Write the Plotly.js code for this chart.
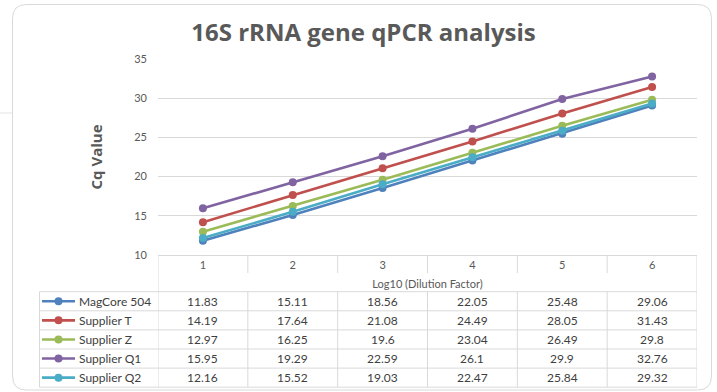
<!DOCTYPE html>
<html>
<head>
<meta charset="utf-8">
<script src="https://cdn.plot.ly/plotly-3.0.1.min.js"></script>
<style>
  html, body { margin: 0; padding: 0; background: #ffffff; }
  #chart { width: 717px; height: 392px; }
</style>
</head>
<body>
<div id="chart"></div>
<script>
// Dilution steps (log10) and Cq values per kit
const dilution = ['1', '2', '3', '4', '5', '6'];
const seriesNames = ['MagCore 504', 'Supplier T', 'Supplier Z', 'Supplier Q1', 'Supplier Q2'];
const magcore504 = [11.83, 15.11, 18.56, 22.05, 25.48, 29.06];
const supplierT  = [14.19, 17.64, 21.08, 24.49, 28.05, 31.43];
const supplierZ  = [12.97, 16.25, 19.6, 23.04, 26.49, 29.8];
const supplierQ1 = [15.95, 19.29, 22.59, 26.1, 29.9, 32.76];
const supplierQ2 = [12.16, 15.52, 19.03, 22.47, 25.84, 29.32];
const yTicks = [10, 15, 20, 25, 30, 35];

const seriesValues = [magcore504, supplierT, supplierZ, supplierQ1, supplierQ2];
const seriesColors = ['#4F81BD', '#C0504D', '#9BBB59', '#8064A2', '#4BACC6'];

// ---- page geometry (pixels) ----
const W = 717, H = 392;
const M = { l: 158, r: 20, t: 59, b: 137 };
const plotW = W - M.l - M.r;
const plotH = H - M.t - M.b;
const px2x = px => (px - M.l) / plotW;
const px2y = py => (H - M.b - py) / plotH;

const FONT = 'Lato, "Open Sans", sans-serif';
const HEAD_FONT = '"Open Sans", Lato, sans-serif';
const GRID = '#d9d9d9';
const TEXT = '#595959';

// data table beneath the axis
const tbl = { left: 39.5, top: 291.7, rowH: 19.1, headBottom: 273 };
const tblBottom = tbl.top + tbl.rowH * seriesNames.length;
const rowMid = k => tbl.top + tbl.rowH * (k + 0.5);

const traces = seriesNames.map((name, k) => ({
  type: 'scatter',
  mode: 'lines+markers',
  name: name,
  x: dilution,
  y: seriesValues[k],
  line: { color: seriesColors[k], width: 2.6 },
  marker: { color: seriesColors[k], size: 8 },
  cliponaxis: false,
  hoverinfo: 'skip'
}));

const shapes = [];
const annotations = [];
const line = (x0, y0, x1, y1, xref, yref, color, width) => shapes.push({
  type: 'line', xref: xref, yref: yref, x0: x0, y0: y0, x1: x1, y1: y1,
  line: { color: color, width: width }
});

// rounded frame round the whole chart
(function () {
  const x0 = 12.5, y0 = 4.5, x1 = 711.5, y1 = 390, r = 14;
  const P = (x, y) => px2x(x) + ',' + px2y(y);
  const d = 'M' + P(x0 + r, y0) + ' L' + P(x1 - r, y0) +
            ' Q' + P(x1, y0) + ' ' + P(x1, y0 + r) +
            ' L' + P(x1, y1 - r) +
            ' Q' + P(x1, y1) + ' ' + P(x1 - r, y1) +
            ' L' + P(x0 + r, y1) +
            ' Q' + P(x0, y1) + ' ' + P(x0, y1 - r) +
            ' L' + P(x0, y0 + r) +
            ' Q' + P(x0, y0) + ' ' + P(x0 + r, y0) + ' Z';
  shapes.push({ type: 'path', xref: 'paper', yref: 'paper', path: d,
                line: { color: '#d9d9d9', width: 1 }, layer: 'below' });
  line(px2x(0), px2y(113), px2x(x0), px2y(113), 'paper', 'paper', '#e3e3e3', 1);
})();

// table header column dividers and outer verticals (category boundaries)
for (let i = 0; i <= dilution.length; i++) {
  const xb = i - 0.5;
  if (i === 0 || i === dilution.length) {
    line(xb, px2y(H - M.b), xb, px2y(tblBottom), 'x', 'paper', GRID, 1);
  } else {
    line(xb, px2y(H - M.b), xb, px2y(tbl.headBottom), 'x', 'paper', GRID, 1);
    line(xb, px2y(tbl.top), xb, px2y(tblBottom), 'x', 'paper', GRID, 1);
  }
}
// table body: row rules and left border
for (let k = 0; k <= seriesNames.length; k++) {
  const y = px2y(tbl.top + tbl.rowH * k);
  line(px2x(tbl.left), y, px2x(W - M.r), y, 'paper', 'paper', GRID, 1);
}
line(px2x(tbl.left), px2y(tbl.top), px2x(tbl.left), px2y(tblBottom), 'paper', 'paper', GRID, 1);

// legend keys, series names and values in each row
seriesNames.forEach((name, k) => {
  const ym = px2y(rowMid(k));
  line(px2x(42), ym, px2x(75), ym, 'paper', 'paper', seriesColors[k], 2.6);
  shapes.push({
    type: 'circle', xref: 'paper', yref: 'paper',
    xsizemode: 'pixel', ysizemode: 'pixel',
    xanchor: px2x(58.5), yanchor: ym,
    x0: -4, x1: 4, y0: -4, y1: 4,
    fillcolor: seriesColors[k], line: { color: seriesColors[k], width: 0 }
  });
  annotations.push({
    xref: 'paper', yref: 'paper', x: px2x(77), y: ym,
    xanchor: 'left', yanchor: 'middle', showarrow: false,
    text: name, font: { family: FONT, size: 12, color: '#404040' }
  });
  seriesValues[k].forEach((v, i) => {
    // category position by index on the x axis
    annotations.push({
      xref: 'x', yref: 'paper', x: i, y: ym,
      xanchor: 'center', yanchor: 'middle', showarrow: false,
      text: String(v), font: { family: FONT, size: 12, color: '#404040' }
    });
  });
});

const layout = {
  width: W, height: H,
  margin: M,
  paper_bgcolor: '#ffffff',
  plot_bgcolor: '#ffffff',
  showlegend: false,
  font: { family: FONT, color: TEXT },
  title: {
    text: '<b>16S rRNA gene qPCR analysis</b>',
    font: { family: HEAD_FONT, size: 24, color: TEXT },
    x: 0.507, xref: 'container', xanchor: 'center',
    y: 0.918, yref: 'container', yanchor: 'middle'
  },
  xaxis: {
    type: 'category',
    categoryorder: 'array', categoryarray: dilution,
    range: [-0.5, dilution.length - 0.5],
    showline: true, linecolor: GRID, linewidth: 1,
    showgrid: false, zeroline: false, ticks: '',
    tickfont: { family: FONT, size: 11, color: TEXT },
    title: {
      text: 'Log10 (Dilution Factor)',
      font: { family: FONT, size: 11, color: TEXT },
      standoff: 10
    },
    fixedrange: true
  },
  yaxis: {
    range: [10, 35],
    tickvals: yTicks,
    showgrid: true, gridcolor: GRID, gridwidth: 1,
    zeroline: false, showline: false, ticks: '',
    ticklabelstandoff: 10,
    tickfont: { family: FONT, size: 11, color: TEXT },
    title: {
      text: '<b>Cq Value</b>',
      font: { family: HEAD_FONT, size: 15, color: TEXT },
      standoff: 27
    },
    fixedrange: true
  },
  shapes: shapes,
  annotations: annotations
};

Plotly.newPlot('chart', traces, layout, { displayModeBar: false, staticPlot: true });
</script>
</body>
</html>
